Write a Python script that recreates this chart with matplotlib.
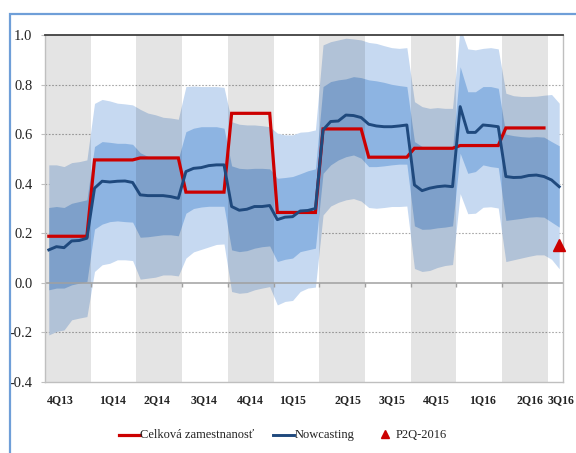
import matplotlib
matplotlib.use('Agg')
import matplotlib.pyplot as plt
import matplotlib.transforms as mtransforms
import numpy as np
from matplotlib.lines import Line2D
from matplotlib.patches import Rectangle

# ---------------- data ----------------
quarters = ['4Q13', '1Q14', '2Q14', '3Q14', '4Q14', '1Q15', '2Q15',
            '3Q15', '4Q15', '1Q16', '2Q16', '3Q16']
points_per_quarter = 6
# quarterly value of total employment (Celková zamestnanosť)
employment_q = [0.188, 0.496, 0.504, 0.366, 0.684, 0.284,
                0.621, 0.507, 0.543, 0.554, 0.625]

nowcast = [0.133, 0.146, 0.142, 0.169, 0.171, 0.180,
           0.382, 0.410, 0.407, 0.410, 0.411, 0.405,
           0.355, 0.352, 0.352, 0.352, 0.348, 0.341,
           0.449, 0.462, 0.465, 0.473, 0.476, 0.476,
           0.308, 0.293, 0.297, 0.308, 0.308, 0.312,
           0.255, 0.265, 0.267, 0.290, 0.292, 0.300,
           0.617, 0.651, 0.653, 0.677, 0.675, 0.667,
           0.640, 0.633, 0.630, 0.630, 0.633, 0.637,
           0.395, 0.372, 0.382, 0.388, 0.391, 0.388,
           0.711, 0.607, 0.607, 0.637, 0.634, 0.630,
           0.429, 0.425, 0.426, 0.433, 0.435, 0.429,
           0.415, 0.388]

upper_outer = [0.476, 0.476, 0.469, 0.485, 0.489, 0.496,
               0.724, 0.740, 0.734, 0.725, 0.722, 0.718,
               0.700, 0.685, 0.678, 0.668, 0.665, 0.660,
               0.792, 0.794, 0.792, 0.792, 0.792, 0.789,
               0.650, 0.640, 0.637, 0.637, 0.634, 0.630,
               0.604, 0.597, 0.597, 0.608, 0.610, 0.617,
               0.960, 0.973, 0.980, 0.987, 0.984, 0.980,
               0.970, 0.966, 0.957, 0.949, 0.946, 0.949,
               0.731, 0.711, 0.704, 0.707, 0.704, 0.704,
               1.030, 0.944, 0.940, 0.946, 0.949, 0.944,
               0.765, 0.755, 0.752, 0.752, 0.753, 0.757,
               0.760, 0.725]

upper_inner = [0.304, 0.308, 0.304, 0.321, 0.328, 0.335,
               0.550, 0.570, 0.567, 0.563, 0.563, 0.559,
               0.525, 0.510, 0.508, 0.503, 0.501, 0.500,
               0.610, 0.624, 0.630, 0.630, 0.630, 0.624,
               0.472, 0.462, 0.460, 0.462, 0.462, 0.460,
               0.422, 0.425, 0.429, 0.440, 0.452, 0.460,
               0.792, 0.812, 0.819, 0.823, 0.832, 0.828,
               0.819, 0.815, 0.809, 0.801, 0.796, 0.792,
               0.570, 0.550, 0.546, 0.546, 0.543, 0.540,
               0.872, 0.771, 0.771, 0.792, 0.792, 0.785,
               0.600, 0.594, 0.590, 0.588, 0.590, 0.588,
               0.570, 0.553]

lower_inner = [-0.028, -0.021, -0.021, -0.008, -0.001, 0.005,
               0.217, 0.237, 0.247, 0.250, 0.247, 0.245,
               0.184, 0.186, 0.190, 0.194, 0.194, 0.190,
               0.281, 0.300, 0.306, 0.309, 0.309, 0.309,
               0.133, 0.126, 0.130, 0.140, 0.146, 0.149,
               0.086, 0.095, 0.100, 0.126, 0.133, 0.140,
               0.442, 0.476, 0.496, 0.509, 0.516, 0.503,
               0.469, 0.469, 0.472, 0.476, 0.479, 0.479,
               0.230, 0.216, 0.217, 0.222, 0.225, 0.230,
               0.523, 0.442, 0.449, 0.476, 0.469, 0.465,
               0.252, 0.256, 0.260, 0.265, 0.267, 0.265,
               0.245, 0.225]

lower_outer = [-0.210, -0.196, -0.190, -0.149, -0.142, -0.136,
               0.046, 0.073, 0.079, 0.093, 0.093, 0.090,
               0.015, 0.019, 0.023, 0.032, 0.032, 0.028,
               0.100, 0.125, 0.135, 0.145, 0.155, 0.157,
               -0.035, -0.042, -0.039, -0.028, -0.021, -0.015,
               -0.089, -0.075, -0.071, -0.035, -0.021, -0.017,
               0.274, 0.310, 0.325, 0.335, 0.340, 0.330,
               0.304, 0.301, 0.304, 0.308, 0.308, 0.310,
               0.058, 0.046, 0.050, 0.062, 0.070, 0.074,
               0.360, 0.279, 0.281, 0.305, 0.307, 0.302,
               0.086, 0.093, 0.100, 0.107, 0.113, 0.113,
               0.095, 0.057]

p2q_2016 = 0.153
yticks = [-0.4, -0.2, 0.0, 0.2, 0.4, 0.6, 0.8, 1.0]
# positions of the quarter labels along the category axis (as in the original)
label_pos = [1.5, 8.4, 14.2, 20.4, 26.5, 32.0, 39.3, 45.0, 50.9, 57.0, 63.1, 67.3]
legend_labels = ['Celková zamestnanosť', 'Nowcasting', 'P2Q-2016']

# ---------------- style ----------------
SERIF = ['Liberation Serif', 'DejaVu Serif']
C_LIGHT = '#c6d9f1'
C_MED = '#8db4e2'
C_NAVY = '#1f497d'
C_RED = '#cc0000'

fig = plt.figure(figsize=(5.76, 4.53), dpi=100)
fig.patch.set_facecolor('white')
W, H = 576.0, 453.0
ax = fig.add_axes([45 / W, (H - 382) / H, 518 / W, 347 / H])

n = len(nowcast)
x = np.arange(n)
ax.set_xlim(-0.5, n - 0.5)
ax.set_ylim(-0.4, 1.0)

# dotted gridlines (under the fans)
for yv in yticks:
    if yv not in (-0.4, 0.0, 1.0):
        ax.axhline(yv, color='#a8a8a8', lw=0.8, ls=(0, (1.5, 1.5)), zorder=0.5)

# fan chart
ax.fill_between(x, lower_outer, upper_outer, color=C_LIGHT, lw=0, zorder=1)
ax.fill_between(x, lower_inner, upper_inner, color=C_MED, lw=0, zorder=1.1)

# alternating grey quarter shading (darkens whatever is beneath)
q_idx = np.arange(len(quarters))
q_start = q_idx * points_per_quarter - 0.5
q_width = np.minimum(points_per_quarter, n - 0.5 - q_start)
shade = (q_idx % 2 == 0)
ax.bar(q_start[shade], 1.4, bottom=-0.4, width=q_width[shade], align='edge',
       color='black', alpha=0.105, lw=0, zorder=2)

# zero axis with tick marks at quarter boundaries
ax.axhline(0.0, color='#a0a0a0', lw=1.1, zorder=2.5)
bounds = q_start[1:len(employment_q)]
ax.vlines(bounds, -0.017, 0.0, color='#a0a0a0', lw=1.0, zorder=2.5)

# lines
emp = np.repeat(employment_q, points_per_quarter)
ax.plot(np.arange(len(emp)), emp, color=C_RED, lw=2.3, zorder=3,
        solid_joinstyle='miter')
ax.plot(x, nowcast, color=C_NAVY, lw=2.1, zorder=3.2)
ax.plot([n - 1], [p2q_2016], marker='^', color=C_RED, ms=9, ls='none',
        zorder=3.5, clip_on=False)

# spines
for s in ('left', 'right', 'bottom'):
    ax.spines[s].set_color('#bfbfbf')
    ax.spines[s].set_linewidth(1.0)
ax.spines['top'].set_color('#404040')
ax.spines['top'].set_linewidth(1.3)

ax.set_yticks(yticks)
ax.set_yticklabels(['%.1f' % v for v in yticks], fontfamily=SERIF, fontsize=10.5)
ax.tick_params(axis='y', length=3, color='#bfbfbf', pad=6, labelcolor='#222222')
ax.set_xticks([])

trans = mtransforms.blended_transform_factory(ax.transData, ax.transAxes)
for pos, lab in zip(label_pos, quarters):
    ax.text(pos, -0.052, lab, transform=trans, ha='center', va='center',
            fontfamily=SERIF, fontweight='bold', fontsize=8.5, color='#222222')

# legend (hand placed, like the original)
ly = 1 - 435 / H
fig.add_artist(Line2D([119 / W, 140 / W], [ly, ly], color=C_RED, lw=2.3))
fig.text(140.5 / W, ly, legend_labels[0], ha='left', va='center',
         fontfamily=SERIF, fontsize=9, color='#222222')
fig.add_artist(Line2D([273 / W, 294 / W], [ly, ly], color=C_NAVY, lw=2.1))
fig.text(294.5 / W, ly, legend_labels[1], ha='left', va='center',
         fontfamily=SERIF, fontsize=9, color='#222222')
fig.add_artist(Line2D([385 / W], [ly + 1 / H], color=C_RED, marker='^', ls='none', ms=5.5))
fig.text(396 / W, ly, legend_labels[2], ha='left', va='center',
         fontfamily=SERIF, fontsize=9, color='#222222')

# outer blue frame
fig.patches.append(Rectangle((10 / W, -0.2), 1.2, (H - 14) / H + 0.2,
                             transform=fig.transFigure, fill=False,
                             edgecolor='#6f9fd8', lw=1.6))

fig.savefig('out.png', dpi=100)
